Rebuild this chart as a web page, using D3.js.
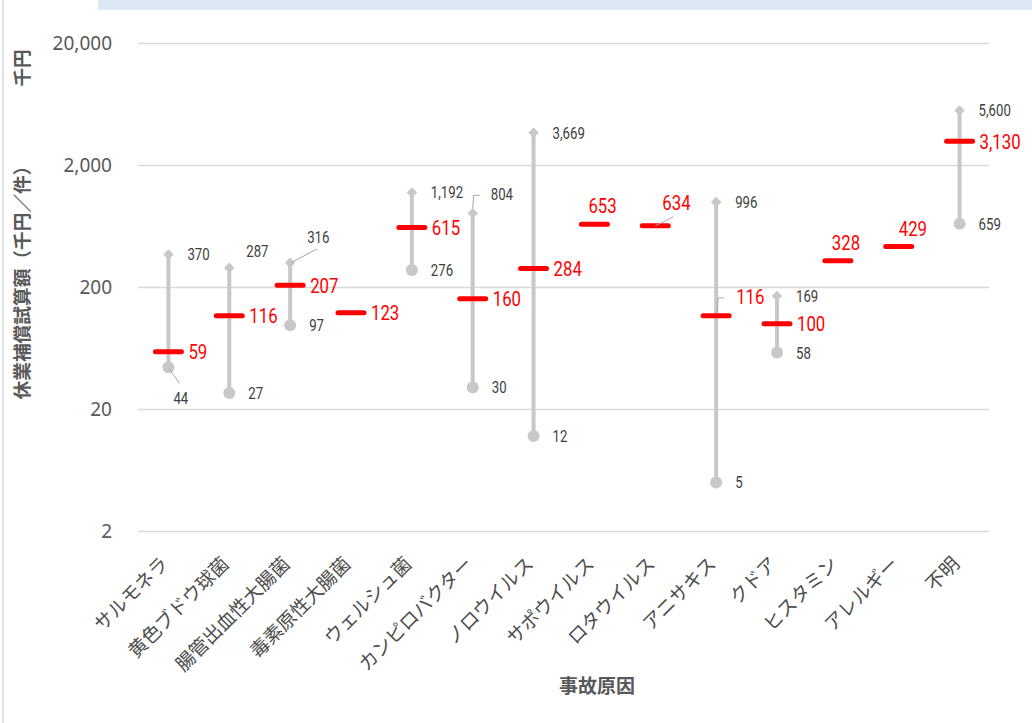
<!DOCTYPE html>
<html>
<head>
<meta charset="utf-8">
<script src="https://cdn.jsdelivr.net/npm/d3@7"></script>
<style>
  html, body { margin: 0; padding: 0; background: #fff; }
  svg { display: block; }
  text { font-family: "Noto Sans CJK JP", "Noto Sans", sans-serif; }
  .num { font-family: "Roboto", "Noto Sans", sans-serif; }
</style>
</head>
<body>
<svg id="chart" width="1032" height="723"></svg>
<script>
// 事故原因ごとの休業補償試算額（千円/件）
const categories = ["サルモネラ", "黄色ブドウ球菌", "腸管出血性大腸菌", "毒素原性大腸菌", "ウェルシュ菌",
  "カンピロバクター", "ノロウイルス", "サポウイルス", "ロタウイルス", "アニサキス", "クドア",
  "ヒスタミン", "アレルギー", "不明"];
const meanValues = [59, 116, 207, 123, 615, 160, 284, 653, 634, 116, 100, 328, 429, 3130];
const maxValues  = [370, 287, 316, null, 1192, 804, 3669, null, null, 996, 169, null, null, 5600];
const minValues  = [44, 27, 97, null, 276, 30, 12, null, null, 5, 58, null, null, 659];
const yTicks = [2, 20, 200, 2000, 20000];

const svg = d3.select("#chart");
const W = 1032, H = 723;
const margin = { left: 138, right: 42, top: 43, bottom: 192 };

// frame decorations
svg.append("rect").attr("x", 98).attr("y", 0).attr("width", W - 98).attr("height", 10).attr("fill", "#dde8f5");
svg.append("line").attr("x1", 3).attr("x2", 3).attr("y1", 0).attr("y2", H)
  .attr("stroke", "#d9d9d9").attr("stroke-width", 1.5);

const x = d3.scaleBand().domain(categories).range([margin.left, W - margin.right]).padding(0);
const y = d3.scaleLog().domain([2, 20000]).range([H - margin.bottom, margin.top]);
const cx = c => x(c) + x.bandwidth() / 2;

const fmt = d3.format(",");

// gridlines + y labels
const yAxis = d3.axisLeft(y).tickValues(yTicks).tickFormat(fmt)
  .tickSize(-(W - margin.left - 43)).tickPadding(26);
const gy = svg.append("g").attr("transform", `translate(${margin.left},0)`).call(yAxis);
gy.select(".domain").remove();
gy.selectAll(".tick line").attr("stroke", "#d9d9d9").attr("stroke-width", 1.3);
gy.selectAll(".tick text").attr("fill", "#595959").attr("font-size", 19)
  .style("font-family", "'Noto Sans', sans-serif");

// x labels
const xAxis = d3.axisBottom(x).tickSize(0).tickPadding(0);
const gx = svg.append("g").attr("transform", `translate(0,${H - margin.bottom})`).call(xAxis);
gx.select(".domain").remove();
gx.selectAll(".tick text")
  .attr("fill", "#4d4d4d").attr("font-size", 19)
  .attr("text-anchor", "end")
  .attr("dy", "0")
  .style("font-family", "'Noto Sans CJK JP', sans-serif")
  .attr("transform", "translate(1,34) rotate(-45)");

// axis titles
svg.append("text").attr("x", 597).attr("y", 693).attr("text-anchor", "middle")
  .attr("fill", "#595959").attr("font-size", 19).attr("font-weight", "bold").text("事故原因");
svg.append("text").attr("transform", "translate(29,278) rotate(-90)").attr("text-anchor", "middle")
  .attr("fill", "#595959").attr("font-size", 18.7).attr("font-weight", "bold").text("休業補償試算額（千円／件）");
svg.append("text").attr("transform", "translate(29,68) rotate(-90)").attr("text-anchor", "middle")
  .attr("fill", "#595959").attr("font-size", 18.5).attr("font-weight", "bold").text("千円");

const data = categories.map((c, i) => ({ c, i, mean: meanValues[i], max: maxValues[i], min: minValues[i] }));
const ranged = data.filter(d => d.max != null);

const grey = "#c8c8c8";
const plot = svg.append("g");

// range lines
plot.selectAll("line.range").data(ranged).join("line")
  .attr("x1", d => cx(d.c)).attr("x2", d => cx(d.c))
  .attr("y1", d => y(d.max)).attr("y2", d => y(d.min))
  .attr("stroke", grey).attr("stroke-width", 4);

// max diamonds
plot.selectAll("path.max").data(ranged).join("path")
  .attr("d", d3.symbol(d3.symbolDiamond2, 70))
  .attr("transform", d => `translate(${cx(d.c)},${y(d.max)})`)
  .attr("fill", grey);

// min circles
plot.selectAll("circle.min").data(ranged).join("circle")
  .attr("cx", d => cx(d.c)).attr("cy", d => y(d.min)).attr("r", 6)
  .attr("fill", grey);

// mean bars
plot.selectAll("line.mean").data(data).join("line")
  .attr("x1", d => cx(d.c) - 13).attr("x2", d => cx(d.c) + 13)
  .attr("y1", d => y(d.mean)).attr("y2", d => y(d.mean))
  .attr("stroke", "#ff0000").attr("stroke-width", 5).attr("stroke-linecap", "round");

// label offsets (dx, dy relative to point) for mean / max / min
const meanOff = { "サポウイルス": [-6, -19], "ロタウイルス": [7, -23], "ヒスタミン": [-6, -18],
  "アレルギー": [0, -18], "アニサキス": [20, -19] };
const maxOff = { "黄色ブドウ球菌": [17, -17], "腸管出血性大腸菌": [17, -26], "カンピロバクター": [18, -19] };
const minOff = { "サルモネラ": [5, 31] };

const lbl = plot.append("g");
// condensed numeric label
const numLabel = (px, py, txt, color, size) =>
  lbl.append("text").attr("class", "num")
    .attr("transform", `translate(${px},${py}) scale(0.8,1)`)
    .attr("dy", "0.36em").attr("fill", color).attr("font-size", size).text(txt);

data.forEach(d => {
  const o = meanOff[d.c] || [20, 0];
  numLabel(cx(d.c) + o[0], y(d.mean) + o[1], fmt(d.mean), "#ff0000", 21);
});
ranged.forEach(d => {
  const o = maxOff[d.c] || [19, 0];
  numLabel(cx(d.c) + o[0], y(d.max) + o[1], fmt(d.max), "#404040", 16.5);
  const p = minOff[d.c] || [19, 0];
  numLabel(cx(d.c) + p[0], y(d.min) + p[1], fmt(d.min), "#404040", 16.5);
});

// leader lines
const lead = (pts) => lbl.append("path").attr("d", d3.line()(pts))
  .attr("fill", "none").attr("stroke", "#a6a6a6").attr("stroke-width", 1);
const dS = data[0], dE = data[2], dC = data[5], dR = data[8], dA = data[9];
lead([[cx(dS.c) + 1, y(dS.min) + 2], [cx(dS.c) + 11, y(dS.min) + 16]]);
lead([[cx(dE.c) + 1, y(dE.max)], [cx(dE.c) + 27, y(dE.max) - 14]]);
lead([[cx(dC.c), y(dC.max) - 5], [cx(dC.c) + 1, y(dC.max) - 18], [cx(dC.c) + 7, y(dC.max) - 18]]);
lead([[cx(dR.c), y(dR.mean)], [cx(dR.c) + 18, y(dR.mean) - 9]]);
lead([[cx(dA.c) + 1, y(dA.mean) - 3], [cx(dA.c) + 2, y(dA.mean) - 18], [cx(dA.c) + 8, y(dA.mean) - 18]]);
</script>
</body>
</html>
